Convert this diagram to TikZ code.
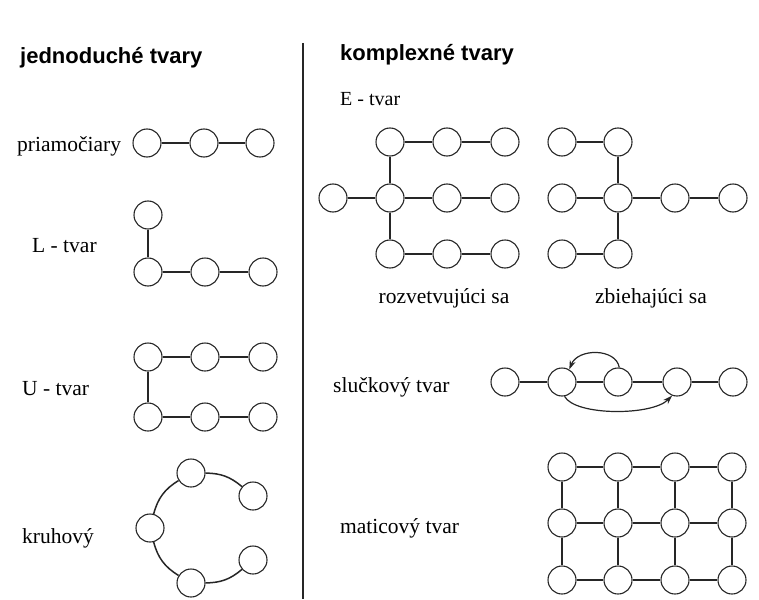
\documentclass[tikz,border=0pt]{standalone}
\usepackage{fontspec}
\setmainfont{Liberation Serif}
\newfontfamily\headfont{Liberation Sans}
\usetikzlibrary{arrows.meta}

\tikzset{
  vertex/.style={circle, draw=black!85, line width=1.1pt, fill=white,
                 minimum size=28pt, inner sep=0pt},
  link/.style={line width=1.5pt, black!85},
  looparrow/.style={line width=1.2pt, black!85,
                    -{Stealth[length=9pt,width=6pt]}},
  caption/.style={anchor=base west, inner sep=0pt,
                  font=\fontsize{21.5}{24}\selectfont},
  heading/.style={anchor=base west, inner sep=0pt,
                  font=\headfont\bfseries\fontsize{22}{26}\selectfont},
}

\begin{document}
\begin{tikzpicture}[x=1pt, y=-1pt]
\useasboundingbox (0,0) rectangle (759,599);

% dividing rule between the two columns
\coordinate (ruletop) at (303,43);
\coordinate (rulebot) at (303,599);
\draw[line width=2.2pt, black!85] (ruletop) -- (rulebot);

% headings
\node[heading] (hsimple) at (20,64) {jednoduché tvary};
\node[heading] (hcomplex) at (340,61) {komplexné tvary};

% ---------- simple shapes ----------
% straight
\node[caption] (tstraight) at (17,151) {priamočiary};
\node[vertex] (p1) at (147,143) {};
\node[vertex] (p2) at (204,143) {};
\node[vertex] (p3) at (260,143) {};
\draw[link] (p1) -- (p2) -- (p3);

% L shape
\node[caption] (tl) at (32,252) {L - tvar};
\node[vertex] (l0) at (148,215) {};
\node[vertex] (l1) at (148,272) {};
\node[vertex] (l2) at (205,272) {};
\node[vertex] (l3) at (263,272) {};
\draw[link] (l0) -- (l1) -- (l2) -- (l3);

% U shape
\node[caption] (tu) at (22,395) {U - tvar};
\node[vertex] (ua1) at (148,357) {};
\node[vertex] (ua2) at (205,357) {};
\node[vertex] (ua3) at (263,357) {};
\node[vertex] (ub1) at (148,417) {};
\node[vertex] (ub2) at (205,417) {};
\node[vertex] (ub3) at (263,417) {};
\draw[link] (ua3) -- (ua2) -- (ua1) -- (ub1) -- (ub2) -- (ub3);

% circular
\node[caption] (tk) at (22,543) {kruhový};
\node[vertex] (k1) at (191,473) {};
\node[vertex] (k2) at (253,496) {};
\node[vertex] (k3) at (150,528) {};
\node[vertex] (k4) at (191,583) {};
\node[vertex] (k5) at (253,560) {};
\draw[link] (k2) to[bend right=20] (k1);
\draw[link] (k1) to[bend right=22] (k3);
\draw[link] (k3) to[bend right=22] (k4);
\draw[link] (k4) to[bend right=20] (k5);

% ---------- complex shapes ----------
\node[caption, font=\fontsize{20}{22}\selectfont] (te) at (340,106) {E - tvar};

% branching E
\node[vertex] (ea1) at (390,142) {};
\node[vertex] (ea2) at (447,142) {};
\node[vertex] (ea3) at (505,142) {};
\node[vertex] (eb0) at (333,198) {};
\node[vertex] (eb1) at (390,198) {};
\node[vertex] (eb2) at (447,198) {};
\node[vertex] (eb3) at (505,198) {};
\node[vertex] (ec1) at (390,254) {};
\node[vertex] (ec2) at (447,254) {};
\node[vertex] (ec3) at (505,254) {};
\draw[link] (ea1) -- (ea2) -- (ea3);
\draw[link] (eb0) -- (eb1) -- (eb2) -- (eb3);
\draw[link] (ec1) -- (ec2) -- (ec3);
\draw[link] (ea1) -- (eb1) -- (ec1);
\node[caption, anchor=base] (tbranch) at (444,303) {rozvetvujúci sa};

% converging E
\node[vertex] (fa0) at (562,142) {};
\node[vertex] (fa1) at (618,142) {};
\node[vertex] (fb0) at (562,198) {};
\node[vertex] (fb1) at (618,198) {};
\node[vertex] (fb2) at (675,198) {};
\node[vertex] (fb3) at (733,198) {};
\node[vertex] (fc0) at (562,254) {};
\node[vertex] (fc1) at (618,254) {};
\draw[link] (fa0) -- (fa1);
\draw[link] (fb0) -- (fb1) -- (fb2) -- (fb3);
\draw[link] (fc0) -- (fc1);
\draw[link] (fa1) -- (fb1) -- (fc1);
\node[caption, anchor=base] (tconv) at (651,303) {zbiehajúci sa};

% loop
\node[caption] (tloop) at (333,392) {slučkový tvar};
\node[vertex] (s1) at (505,382) {};
\node[vertex] (s2) at (562,382) {};
\node[vertex] (s3) at (618,382) {};
\node[vertex] (s4) at (677,382) {};
\node[vertex] (s5) at (733,382) {};
\draw[link] (s1) -- (s2) -- (s3) -- (s4) -- (s5);
\draw[looparrow] (s3.85) .. controls (616,348) and (578,348) .. (s2.60);
\draw[looparrow] (s2.-80) .. controls (575,416) and (652,416) .. (s4.-110);

% matrix
\node[caption] (tmat) at (340,533) {maticový tvar};
\foreach \c/\x in {1/562,2/618,3/675,4/732}{
  \foreach \r/\y in {1/467,2/523,3/580}{
    \node[vertex] (m\r\c) at (\x,\y) {};
  }
}
\foreach \r in {1,2,3}{
  \draw[link] (m\r1) -- (m\r2) -- (m\r3) -- (m\r4);
}
\foreach \c in {1,2,3,4}{
  \draw[link] (m1\c) -- (m2\c) -- (m3\c);
}
\end{tikzpicture}
\end{document}
